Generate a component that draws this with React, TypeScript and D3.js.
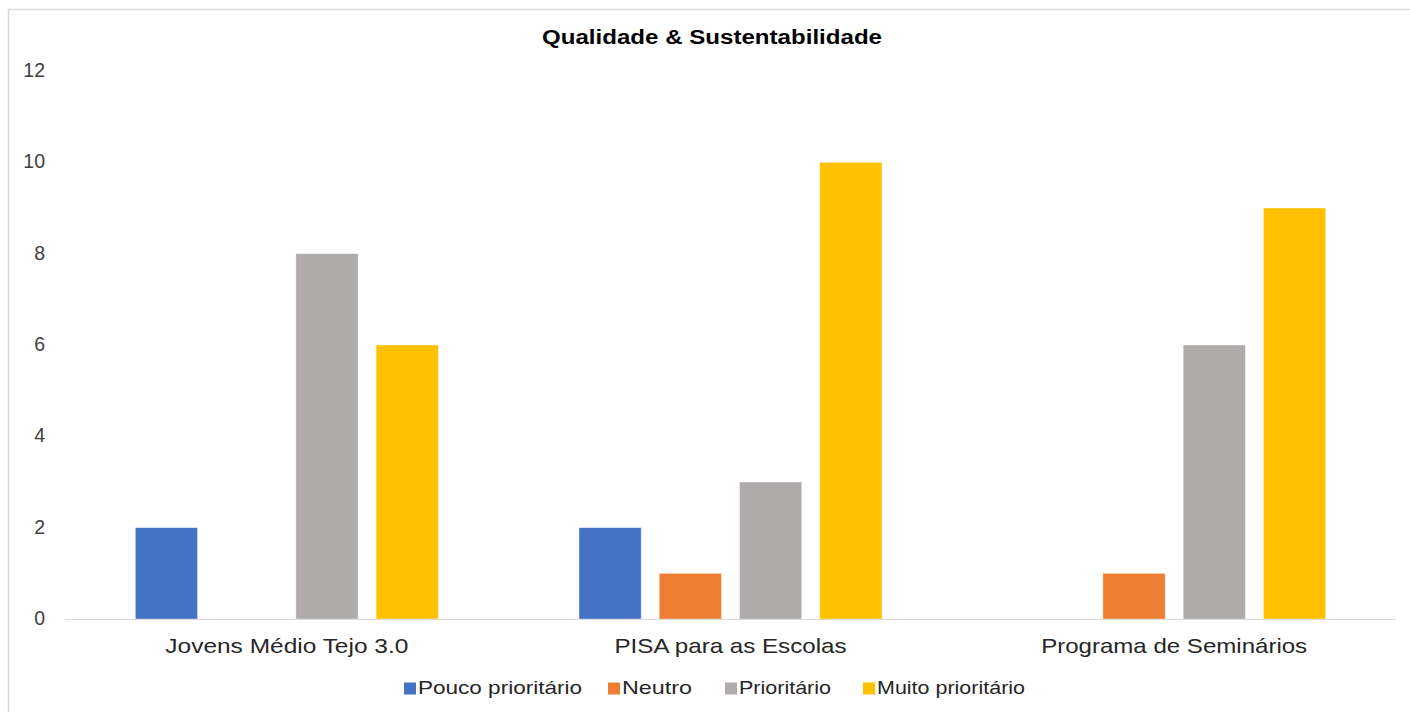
import React, { useRef, useEffect } from 'react';
import * as d3 from 'd3';

const categories = ['Jovens Médio Tejo 3.0', 'PISA para as Escolas', 'Programa de Seminários'];
const seriesNames = ['Pouco prioritário', 'Neutro', 'Prioritário', 'Muito prioritário'];
const seriesColors = ['#4472c4', '#ed7d31', '#afabab', '#ffc000'];
const poucoPrioritario = [2, 2, 0];
const neutro = [0, 1, 1];
const prioritario = [8, 3, 6];
const muitoPrioritario = [6, 10, 9];
const yTicks = [0, 2, 4, 6, 8, 10, 12];

const App: React.FC = () => {
  const svgRef = useRef<SVGSVGElement>(null);

  useEffect(() => {
    if (!svgRef.current) return;
    const svg = d3.select(svgRef.current);
    svg.selectAll('*').remove();

    const W = 1410, H = 712;
    const font = '"Liberation Sans", Arial, sans-serif';
    const left = 65, right = 1396, top = 71, bottom = 619;

    // chart frame
    svg.append('rect')
      .attr('x', 8.5).attr('y', 9.5)
      .attr('width', W).attr('height', H)
      .attr('fill', '#fff').attr('stroke', '#d9d9d9').attr('stroke-width', 1.5);

    const values = [poucoPrioritario, neutro, prioritario, muitoPrioritario];

    const x0 = d3.scaleBand().domain(categories).range([left, right]);
    const groupW = 303;
    const x1 = d3.scaleBand().domain(seriesNames).range([0, groupW]).paddingInner(0.225);
    const y = d3.scaleLinear().domain([0, 12]).range([bottom, top]);

    // title (the source text is rendered wider than Liberation, so stretch it)
    svg.append('text')
      .attr('x', 542).attr('y', 44)
      .attr('textLength', 340).attr('lengthAdjust', 'spacingAndGlyphs')
      .attr('font-family', font).attr('font-weight', 'bold').attr('font-size', 19.5)
      .attr('fill', '#000')
      .text('Qualidade & Sustentabilidade');

    // y labels
    svg.append('g').selectAll('text').data(yTicks).join('text')
      .attr('x', 45).attr('y', d => y(d) + 6)
      .attr('text-anchor', 'end')
      .attr('font-family', font).attr('font-size', 19.5)
      .attr('fill', '#404040')
      .text(d => d);

    // bars
    seriesNames.forEach((s, si) => {
      svg.append('g').selectAll('rect').data(categories).join('rect')
        .attr('x', (c) => (x0(c) as number) + x0.bandwidth() / 2 - groupW / 2 + (x1(s) as number))
        .attr('y', (_, i) => y(values[si][i]))
        .attr('width', x1.bandwidth())
        .attr('height', (_, i) => bottom - y(values[si][i]))
        .attr('fill', seriesColors[si])
        .attr('stroke', '#fff').attr('stroke-opacity', 0.5).attr('stroke-width', 0.75);
    });

    // baseline
    svg.append('line')
      .attr('x1', left).attr('x2', right)
      .attr('y1', bottom + 0.5).attr('y2', bottom + 0.5)
      .attr('stroke', '#d9d9d9').attr('stroke-width', 1);

    // x labels
    const xLabelWidths = [243, 232, 266];
    svg.append('g').selectAll('text').data(categories).join('text')
      .attr('x', c => (x0(c) as number) + x0.bandwidth() / 2)
      .attr('y', 653)
      .attr('text-anchor', 'middle')
      .attr('textLength', (_, i) => xLabelWidths[i]).attr('lengthAdjust', 'spacingAndGlyphs')
      .attr('font-family', font).attr('font-size', 21)
      .attr('fill', '#262626')
      .text(c => c);

    // legend
    const legendX = [404, 608, 725, 863];
    const legendW = [164, 70, 92, 148];
    const legend = svg.append('g');
    seriesNames.forEach((s, i) => {
      legend.append('rect')
        .attr('x', legendX[i]).attr('y', 682.5)
        .attr('width', 12).attr('height', 12)
        .attr('fill', seriesColors[i]);
      legend.append('text')
        .attr('x', legendX[i] + 14).attr('y', 694)
        .attr('textLength', legendW[i]).attr('lengthAdjust', 'spacingAndGlyphs')
        .attr('font-family', font).attr('font-size', 19)
        .attr('fill', '#262626')
        .text(s);
    });
  }, []);

  return (
    <svg ref={svgRef} width={1410} height={712}
      style={{ position: 'absolute', left: 0, top: 0, display: 'block' }} />
  );
};

export default App;
